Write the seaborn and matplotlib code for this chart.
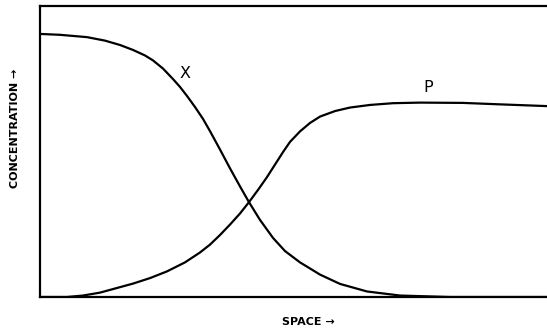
import matplotlib
matplotlib.use("Agg")
import matplotlib.pyplot as plt
import seaborn as sns
import pandas as pd

# Position along the medium (0-100) and relative concentrations of X and P
space_x = [0, 3.94, 9.27, 12.82, 15.78, 18.34, 20.71, 22.29, 24.26, 26.23,
           27.61, 28.99, 30.57, 32.15, 33.53, 35.50, 37.48, 39.45, 41.22,
           43.39, 45.96, 48.32, 51.28, 55.23, 59.17, 64.50, 71.01, 80.87, 100]
conc_x = [0.904, 0.901, 0.893, 0.881, 0.866, 0.849, 0.830, 0.813, 0.785,
          0.749, 0.722, 0.691, 0.653, 0.612, 0.570, 0.507, 0.442, 0.380,
          0.326, 0.265, 0.203, 0.158, 0.119, 0.077, 0.045, 0.019, 0.005,
          0.0, 0.0]

space_p = [0, 5.33, 8.48, 11.83, 15.19, 18.34, 21.70, 25.05, 28.60, 31.56,
           33.53, 35.50, 37.48, 39.45, 41.22, 43.00, 44.77, 46.35, 47.93,
           49.31, 51.28, 53.25, 55.23, 58.19, 61.14, 65.09, 69.63, 74.95,
           83.43, 90.73, 100]
conc_p = [0.0, 0.0, 0.005, 0.015, 0.031, 0.046, 0.065, 0.088, 0.119, 0.153,
          0.180, 0.213, 0.249, 0.287, 0.326, 0.368, 0.412, 0.455, 0.498,
          0.533, 0.569, 0.598, 0.620, 0.639, 0.651, 0.660, 0.666, 0.668,
          0.667, 0.662, 0.656]

curve_names = ["X", "P"]
label_pos = {"X": (28.7, 0.768), "P": (76.5, 0.720)}

df = pd.concat([
    pd.DataFrame({"space": space_x, "conc": conc_x, "species": "X"}),
    pd.DataFrame({"space": space_p, "conc": conc_p, "species": "P"}),
])

sns.set_theme(style="white")
plt.rcParams["font.family"] = ["DejaVu Sans"]

W, H = 547, 332
fig = plt.figure(figsize=(W / 100, H / 100), dpi=100)
ax = fig.add_axes([40 / W, 35 / H, 507 / W, 291 / H])

sns.lineplot(data=df, x="space", y="conc", units="species", estimator=None,
             color="black", linewidth=1.6, sort=False, ax=ax)
for line in ax.lines:
    line.set_solid_joinstyle("round")

for name in curve_names:
    x, y = label_pos[name]
    ax.text(x, y, name, ha="center", va="center", fontsize=11.5, color="black")

ax.set_xlim(0, 100)
ax.set_ylim(0, 1)
ax.set_xticks([])
ax.set_yticks([])

for side in ["left", "bottom", "top"]:
    ax.spines[side].set_color("black")
    ax.spines[side].set_linewidth(1.6)
ax.spines["right"].set_visible(False)

ax.set_xlabel("SPACE \u2192", fontsize=8, fontweight="bold", color="black")
ax.set_ylabel("CONCENTRATION \u2192", fontsize=8, fontweight="bold", color="black")
ax.xaxis.set_label_coords(308 / W, 1 - 322 / H, transform=fig.transFigure)
ax.xaxis.label.set_va("center")
ax.yaxis.set_label_coords(15 / W, 1 - 128 / H, transform=fig.transFigure)
ax.yaxis.label.set_va("center")

fig.savefig("out.png", dpi=100, facecolor="white")
